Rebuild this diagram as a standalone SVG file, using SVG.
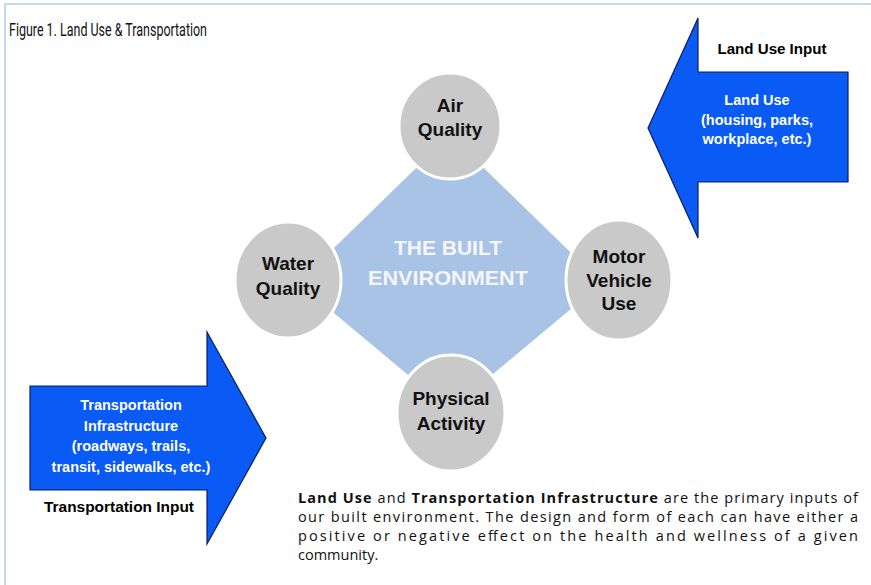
<svg xmlns="http://www.w3.org/2000/svg" width="871" height="585" viewBox="0 0 871 585">
  <style>
    .frame { stroke: #c6d9f0; stroke-width: 2; fill: none; }
    .input-arrow { fill: #0a5af5; stroke: #0b1f5c; stroke-width: 1.2; stroke-linejoin: miter; }
    .bubble { fill: #c9c9c9; stroke: #ffffff; stroke-width: 3; }
    .core { fill: #a9c3e6; }
    .bubble-text { font-family: "Liberation Sans", Arial, sans-serif; font-weight: 700; font-size: 19px; fill: #111111; text-anchor: middle; }
    .core-text { font-family: "Liberation Sans", Arial, sans-serif; font-weight: 700; font-size: 21px; fill: #f3f6fb; text-anchor: middle; }
    .arrow-text { font-family: "Liberation Sans", Arial, sans-serif; font-weight: 700; font-size: 14.5px; fill: #ffffff; text-anchor: middle; }
    .input-label { font-family: "Liberation Sans", Arial, sans-serif; font-weight: 700; font-size: 14.5px; fill: #000000; text-anchor: middle; }
    .title { font-family: "Liberation Sans Narrow", Roboto, "Liberation Sans", sans-serif; font-size: 19px; fill: #111111; }
    .body { font-family: "Open Sans", "DejaVu Sans", sans-serif; font-size: 14.5px; fill: #111111; }
    .body .b { font-weight: 700; }
  </style>

  <rect width="871" height="585" fill="#ffffff"/>
  <!-- page frame: top and left rules -->
  <path class="frame" d="M5,585 V4 H871"/>

  <g id="title">
    <text class="title" x="9" y="36" textLength="198" lengthAdjust="spacingAndGlyphs">Figure 1. Land Use &amp; Transportation</text>
  </g>

  <!-- land use input arrow (points left) -->
  <g id="land-use-input">
    <polygon class="input-arrow" points="848,72 698,72 698,18 648,128 698,238 698,182 848,182"/>
    <text class="input-label" x="772" y="54" textLength="109" lengthAdjust="spacingAndGlyphs">Land Use Input</text>
    <text class="arrow-text" x="757" y="105">Land Use</text>
    <text class="arrow-text" x="757" y="125">(housing, parks,</text>
    <text class="arrow-text" x="757" y="144">workplace, etc.)</text>
  </g>

  <!-- transportation input arrow (points right) -->
  <g id="transportation-input">
    <polygon class="input-arrow" points="30,386 207,386 207,332 266,438 207,544 207,490 30,490"/>
    <text class="arrow-text" x="131" y="410">Transportation</text>
    <text class="arrow-text" x="131" y="431">Infrastructure</text>
    <text class="arrow-text" x="131" y="451">(roadways, trails,</text>
    <text class="arrow-text" x="131" y="472">transit, sidewalks, etc.)</text>
    <text class="input-label" x="119" y="512" textLength="150" lengthAdjust="spacingAndGlyphs">Transportation Input</text>
  </g>

  <!-- central diamond -->
  <g id="built-environment">
    <polygon class="core" points="450,135 602,283 450,410 298,283"/>
    <text class="core-text" x="448" y="255">THE BUILT</text>
    <text class="core-text" x="448" y="285" textLength="160" lengthAdjust="spacingAndGlyphs">ENVIRONMENT</text>
  </g>

  <g id="air-quality">
    <ellipse class="bubble" cx="450" cy="126" rx="51" ry="53"/>
    <text class="bubble-text" x="450" y="112">Air</text>
    <text class="bubble-text" x="450" y="136">Quality</text>
  </g>

  <g id="water-quality">
    <ellipse class="bubble" cx="288" cy="280" rx="53" ry="58"/>
    <text class="bubble-text" x="288" y="270">Water</text>
    <text class="bubble-text" x="288" y="295">Quality</text>
  </g>

  <g id="motor-vehicle-use">
    <ellipse class="bubble" cx="619" cy="280" rx="53" ry="60"/>
    <text class="bubble-text" x="619" y="263">Motor</text>
    <text class="bubble-text" x="619" y="287">Vehicle</text>
    <text class="bubble-text" x="619" y="310">Use</text>
  </g>

  <g id="physical-activity">
    <ellipse class="bubble" cx="451" cy="413" rx="54" ry="58"/>
    <text class="bubble-text" x="451" y="405">Physical</text>
    <text class="bubble-text" x="451" y="430">Activity</text>
  </g>

  <g id="caption">
    <text class="body" x="298" y="503" textLength="560" lengthAdjust="spacing"><tspan class="b">Land Use</tspan> and <tspan class="b">Transportation Infrastructure</tspan> are the primary inputs of</text>
    <text class="body" x="298" y="522" textLength="560" lengthAdjust="spacing">our built environment. The design and form of each can have either a</text>
    <text class="body" x="298" y="541" textLength="560" lengthAdjust="spacing">positive or negative effect on the health and wellness of a given</text>
    <text class="body" x="298" y="560">community.</text>
  </g>
</svg>
